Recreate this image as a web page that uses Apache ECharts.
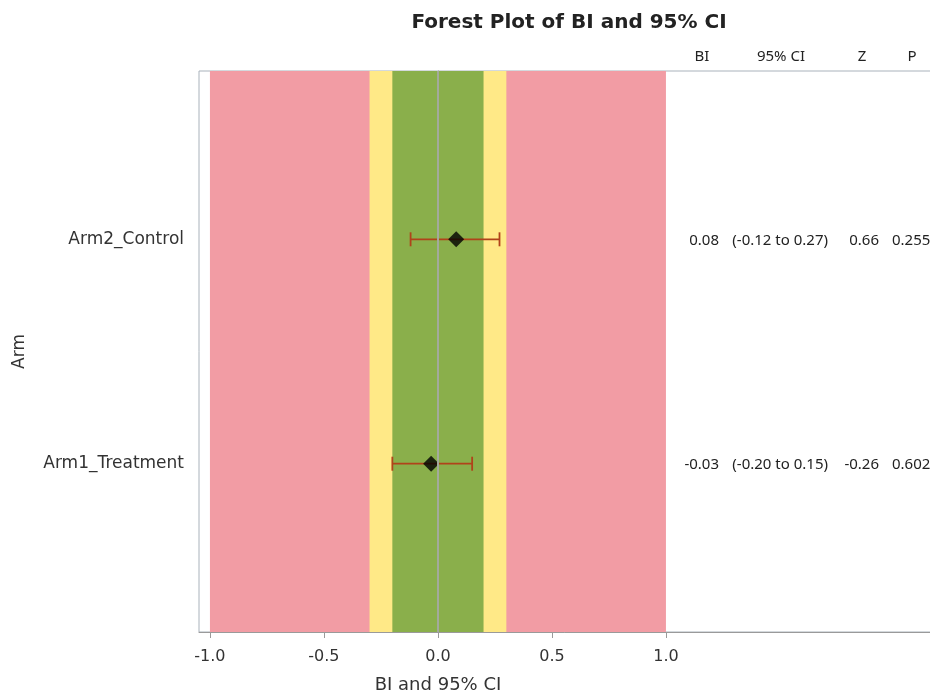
<!DOCTYPE html>
<html>
<head>
<meta charset="utf-8">
<script src="https://cdn.jsdelivr.net/npm/echarts@6/dist/echarts.min.js"></script>
<style>html,body{margin:0;padding:0;background:#fff}#c{width:930px;height:697px}</style>
</head>
<body>
<div id="c"></div>
<script>
var arms = ['Arm1_Treatment', 'Arm2_Control'];
var bi = [-0.03, 0.08];
var ciLow = [-0.20, -0.12];
var ciHigh = [0.15, 0.27];
var zVals = [-0.26, 0.66];
var pVals = [0.602, 0.255];
var xTicks = [-1.0, -0.5, 0.0, 0.5, 1.0];
var tableHeaders = ['BI', '95% CI', 'Z', 'P'];
var bandRed = [-1, 1];
var bandYellow = [-0.3, 0.3];
var bandGreen = [-0.2, 0.2];

var FONT = 'DejaVu Sans';
var TFONT = 'Noto Sans';
var rows = arms.map(function (a, i) { return i + 1; });

var chart = echarts.init(document.getElementById('c'));
var pointData = bi.map(function (v, i) { return [v, rows[i]]; });
var errData = ciLow.map(function (v, i) { return [v, ciHigh[i], rows[i]]; });
var tableData = bi.map(function (v, i) { return [v, rows[i], ciLow[i], ciHigh[i], zVals[i], pVals[i]]; });

var option = {
  animation: false,
  title: {
    text: 'Forest Plot of BI and 95% CI',
    left: 564, top: 8, textAlign: 'center',
    textStyle: { fontFamily: FONT, fontSize: 20, fontWeight: 'bold', color: '#222' }
  },
  grid: { left: 199, top: 71, bottom: 65, width: 740, outerBoundsMode: 'none', containLabel: false,
    show: true, borderColor: '#a9b2bb', borderWidth: 1, backgroundColor: 'transparent' },
  xAxis: {
    type: 'value', min: -1.048, max: 2.1976,
    axisLine: { show: true, lineStyle: { color: '#9a9a9a' } },
    axisTick: { show: true, length: 6, customValues: xTicks, lineStyle: { color: '#9a9a9a' } },
    axisLabel: { customValues: xTicks, margin: 17, fontFamily: FONT, fontSize: 16, color: '#333',
      formatter: function (v) { return v.toFixed(1); } },
    splitLine: { show: false }
  },
  yAxis: {
    type: 'value', min: 0.25, max: 2.75,
    name: 'Arm', nameLocation: 'middle', nameGap: 171,
    nameTextStyle: { fontFamily: FONT, fontSize: 17, color: '#333' },
    axisLine: { show: true, lineStyle: { color: '#9a9a9a' } },
    axisTick: { show: true, length: 6, customValues: rows, lineStyle: { color: '#9a9a9a' } },
    axisLabel: { customValues: rows, margin: 15, fontFamily: FONT, fontSize: 17, color: '#333',
      formatter: function (v) { return arms[Math.round(v) - 1] || ''; } },
    splitLine: { show: false }
  },
  graphic: [
    { type: 'text', x: 438, y: 676, style: { text: 'BI and 95% CI', fontFamily: FONT, fontSize: 18, fill: '#333', align: 'center' } }
  ],
  series: [
    {
      type: 'scatter', data: [], silent: true, z: 1,
      markArea: {
        silent: true,
        data: [
          [{ xAxis: bandRed[0], itemStyle: { color: '#f29ca4' } }, { xAxis: bandRed[1] }],
          [{ xAxis: bandYellow[0], itemStyle: { color: '#ffe987' } }, { xAxis: bandYellow[1] }],
          [{ xAxis: bandGreen[0], itemStyle: { color: '#8aaf4b' } }, { xAxis: bandGreen[1] }]
        ]
      },
      markLine: {
        silent: true, symbol: 'none', label: { show: false },
        lineStyle: { color: '#a3aa9c', width: 2, type: 'solid' },
        data: [{ xAxis: 0 }]
      }
    },
    {
      type: 'custom', z: 3, silent: true,
      data: errData,
      encode: { x: [0, 1], y: 2 },
      renderItem: function (params, api) {
        var y = api.value(2);
        var p1 = api.coord([api.value(0), y]);
        var p2 = api.coord([api.value(1), y]);
        var h = 7;
        var st = { stroke: '#b0431a', lineWidth: 1.8 };
        return { type: 'group', children: [
          { type: 'line', shape: { x1: p1[0], y1: p1[1], x2: p2[0], y2: p2[1] }, style: st },
          { type: 'line', shape: { x1: p1[0], y1: p1[1] - h, x2: p1[0], y2: p1[1] + h }, style: st },
          { type: 'line', shape: { x1: p2[0], y1: p2[1] - h, x2: p2[0], y2: p2[1] + h }, style: st }
        ] };
      }
    },
    {
      type: 'scatter', z: 4, silent: true,
      data: pointData, symbol: 'diamond', symbolSize: [16, 16],
      itemStyle: { color: '#000' }
    },
    {
      type: 'custom', z: 5, silent: true,
      data: tableData,
      encode: { x: 0, y: 1 },
      clip: false,
      renderItem: function (params, api) {
        var y = api.coord([0, api.value(1)])[1] + 1;
        var ts = { fontFamily: TFONT, fontSize: 15, fill: '#222', verticalAlign: 'middle' };
        function t(x, s, align) { return { type: 'text', style: Object.assign({ x: x, y: y, text: s, align: align }, ts) }; }
        var children = [
          t(719, api.value(0).toFixed(2), 'right'),
          t(828, '(' + api.value(2).toFixed(2) + ' to ' + api.value(3).toFixed(2) + ')', 'right'),
          t(879, api.value(4).toFixed(2), 'right'),
          t(892, api.value(5).toFixed(3), 'left')
        ];
        if (params.dataIndex === 0) {
          var hy = 57;
          var hx = [702, 781, 862, 912];
          tableHeaders.forEach(function (h, k) {
            children.push({ type: 'text', style: Object.assign({}, ts, { x: hx[k], y: hy, text: h, align: 'center', fontSize: 15 }) });
          });
        }
        return { type: 'group', children: children };
      }
    }
  ]
};
chart.setOption(option);
</script>
</body>
</html>
